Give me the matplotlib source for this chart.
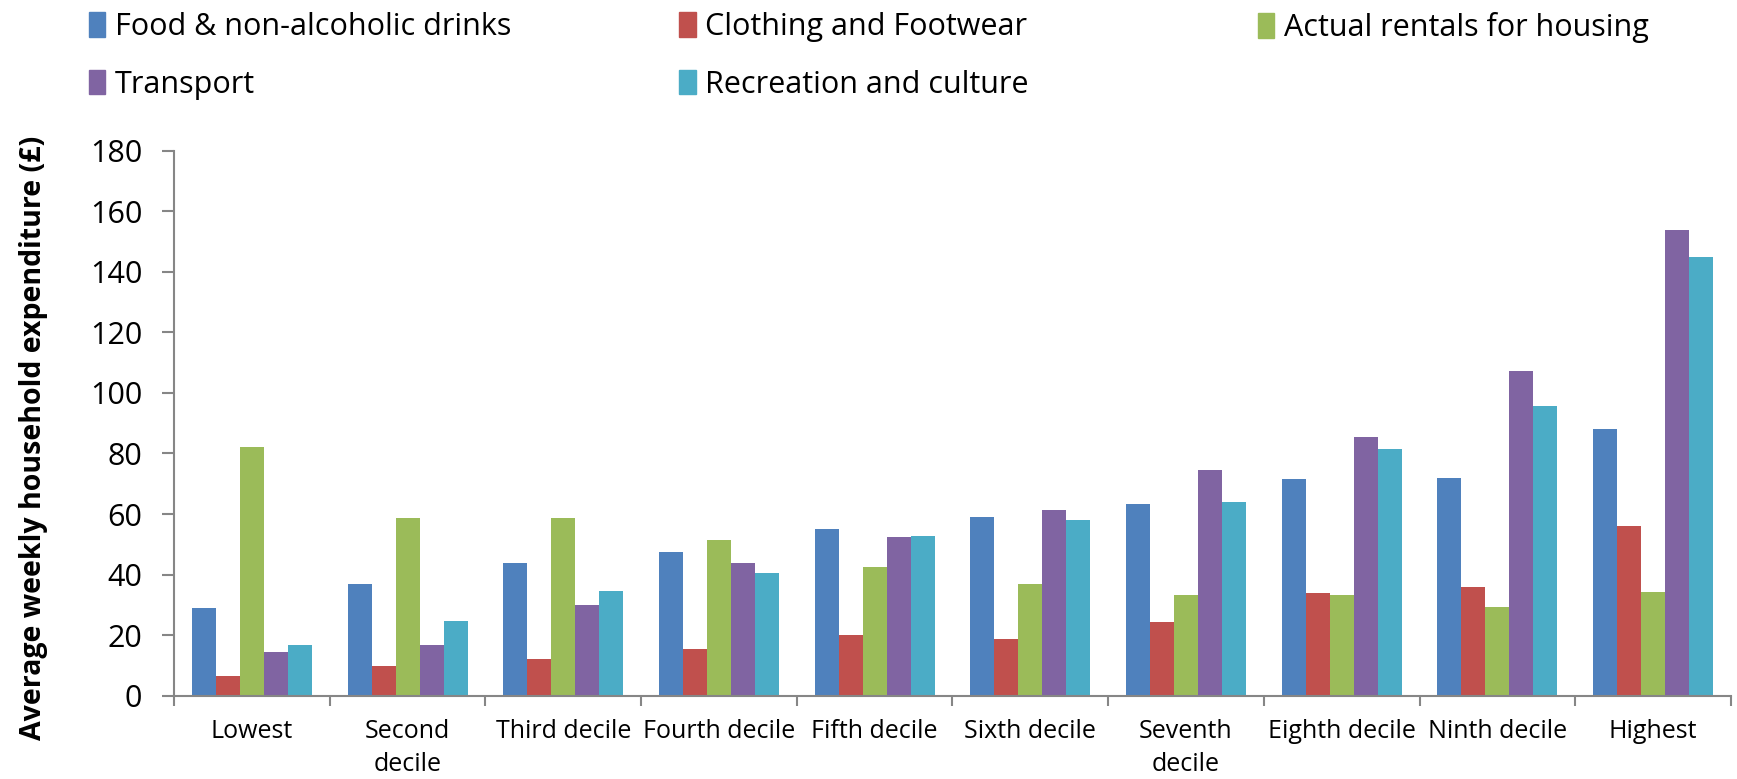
import numpy as np
import matplotlib
matplotlib.use("Agg")
import matplotlib.pyplot as plt
from matplotlib.patches import Patch

plt.rcParams['font.family'] = ['Open Sans', 'DejaVu Sans']

# Categories and series (weekly expenditure, GBP)
categories = ["Lowest", "Second\ndecile", "Third decile", "Fourth decile", "Fifth decile",
              "Sixth decile", "Seventh\ndecile", "Eighth decile", "Ninth decile", "Highest"]
series_names = ["Food & non-alcoholic drinks", "Clothing and Footwear",
                "Actual rentals for housing", "Transport", "Recreation and culture"]
food = [29.0, 36.9, 43.7, 47.4, 54.9, 59.0, 63.2, 71.5, 71.9, 88.2]
clothing = [6.5, 9.7, 12.0, 15.3, 19.9, 18.8, 24.4, 33.8, 35.8, 55.9]
rentals = [82.2, 58.6, 58.7, 51.4, 42.6, 36.8, 33.2, 33.4, 29.2, 34.1]
transport = [14.4, 16.6, 30.1, 43.9, 52.3, 61.2, 74.7, 85.4, 107.1, 153.7]
recreation = [16.6, 24.5, 34.7, 40.5, 52.9, 58.0, 64.0, 81.5, 95.7, 145.0]
colors = ["#4F81BD", "#C0504D", "#9BBB59", "#8064A2", "#4BACC6"]

values = [food, clothing, rentals, transport, recreation]

fig = plt.figure(figsize=(17.37, 7.79), dpi=100)
ax = fig.add_axes([0.1002, 0.107, 0.8963, 0.6995])

x = np.arange(len(categories))
bw = 0.154
for i, (vals, c) in enumerate(zip(values, colors)):
    ax.bar(x + (i - 2) * bw, vals, width=bw, color=c, linewidth=0)

ax.set_xlim(-0.5, len(categories) - 0.5)
ax.set_ylim(0, 180)
ax.set_yticks(np.arange(0, 181, 20))
ax.set_xticks(x)
ax.set_xticklabels(categories, fontsize=18, linespacing=1.4)
ax.set_xticks(np.arange(-0.5, len(categories)), minor=True)
ax.tick_params(axis='x', which='major', length=0, pad=17)
ax.tick_params(axis='x', which='minor', length=7, width=1.5, color="#868686", direction='out')
ax.tick_params(axis='y', length=9, width=1.5, color="#868686", labelsize=22, pad=14)

for s in ["top", "right"]:
    ax.spines[s].set_visible(False)
for s in ["left", "bottom"]:
    ax.spines[s].set_color("#868686")
    ax.spines[s].set_linewidth(1.5)

fig.text(0.019, 0.438, "Average weekly household expenditure (£)", rotation=90,
         fontsize=20.5, fontweight='bold', ha='center', va='center')

# legend, laid out in three columns like the original
handles = [Patch(color=c) for c in colors]
cols = [([0, 3], 0.044), ([1, 4], 0.384), ([2], 0.717)]
for idx, xpos in cols:
    fig.legend([handles[i] for i in idx], [series_names[i] for i in idx],
               loc='upper left', bbox_to_anchor=(xpos, 1.0), frameon=False,
               fontsize=22, handlelength=0.55, handleheight=0.85, handletextpad=0.3,
               labelspacing=0.9, borderaxespad=0)

fig.savefig("out.png", dpi=100)
